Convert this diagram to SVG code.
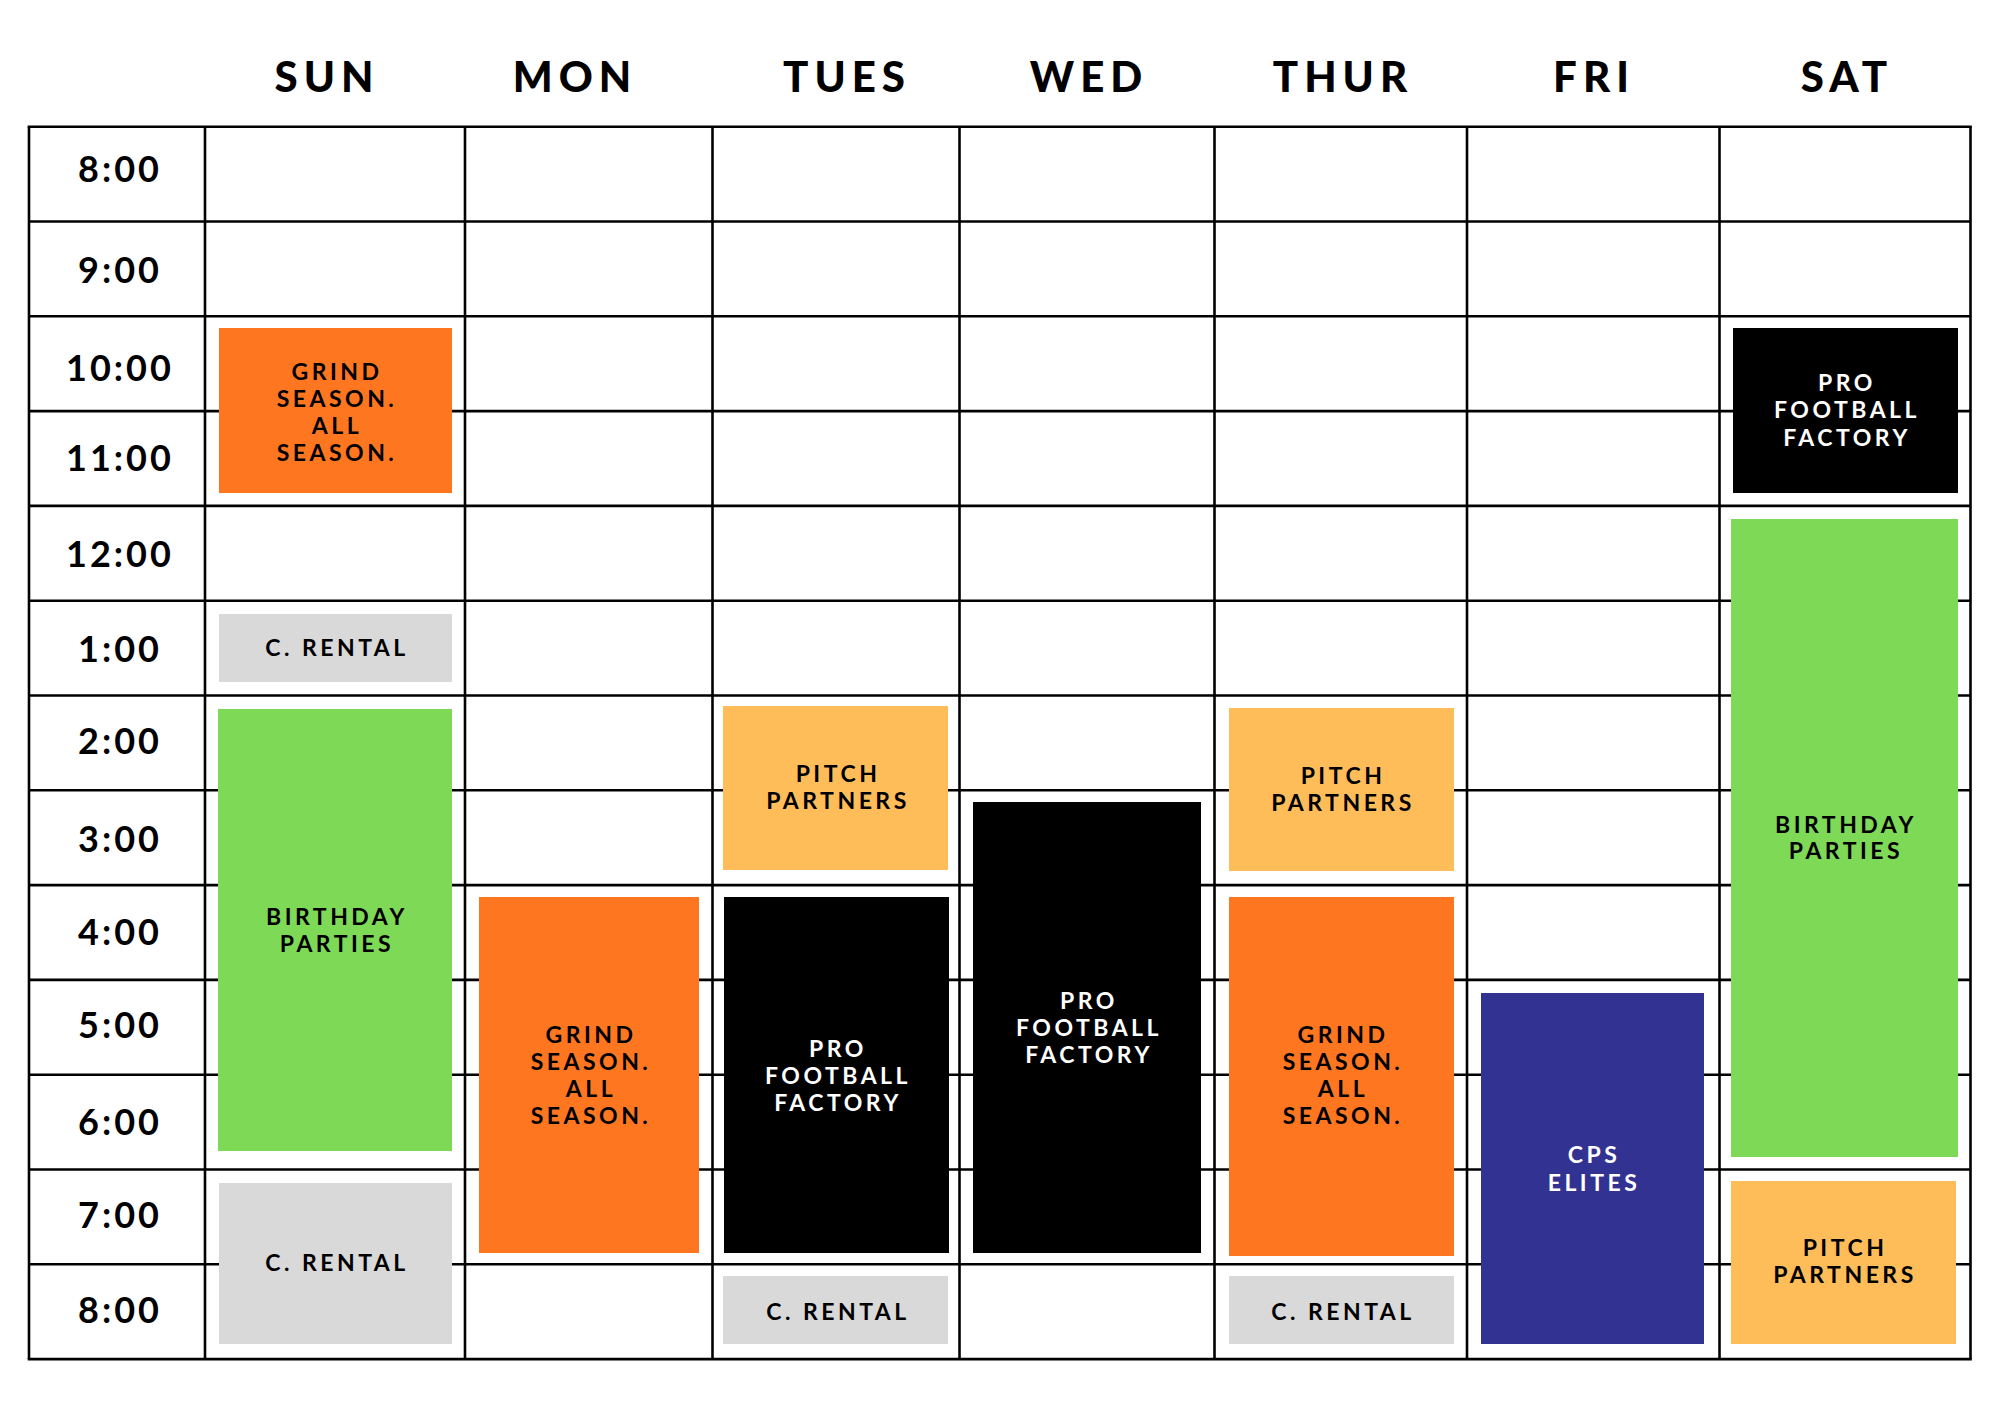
<svg xmlns="http://www.w3.org/2000/svg" width="2000" height="1412" viewBox="0 0 2000 1412">
<style>
.grid line{stroke:#000;stroke-width:2.6}
.hd{font-family:Lato,"Liberation Sans",sans-serif;font-weight:900;font-size:42px;letter-spacing:6px;text-anchor:middle;fill:#000}
.tm{font-family:Lato,"Liberation Sans",sans-serif;font-weight:700;font-size:36px;letter-spacing:3px;text-anchor:middle;fill:#000}
.lb{font-family:Lato,"Liberation Sans",sans-serif;font-weight:700;font-size:23px;letter-spacing:3.5px;text-anchor:middle}
.dk{fill:#000}
.wt{fill:#fff}
.orange{fill:#FE7620}
.yellow{fill:#FFBD59}
.green{fill:#7ED957}
.gray{fill:#D9D9D9}
.black{fill:#000}
.blue{fill:#323292}
</style>
<rect width="2000" height="1412" fill="#fff"/>
<g id="headers">
<text class="hd" x="327" y="92">SUN</text>
<text class="hd" x="575" y="92">MON</text>
<text class="hd" x="847" y="92">TUES</text>
<text class="hd" x="1089" y="92">WED</text>
<text class="hd" x="1343" y="92">THUR</text>
<text class="hd" x="1594" y="92">FRI</text>
<text class="hd" x="1847" y="92">SAT</text>
</g>
<g id="grid" class="grid">
<line x1="27.7" y1="126.7" x2="1971.8" y2="126.7"/>
<line x1="29" y1="221.5" x2="1970.5" y2="221.5"/>
<line x1="29" y1="316.3" x2="1970.5" y2="316.3"/>
<line x1="29" y1="411.1" x2="1970.5" y2="411.1"/>
<line x1="29" y1="505.9" x2="1970.5" y2="505.9"/>
<line x1="29" y1="600.7" x2="1970.5" y2="600.7"/>
<line x1="29" y1="695.5" x2="1970.5" y2="695.5"/>
<line x1="29" y1="790.3" x2="1970.5" y2="790.3"/>
<line x1="29" y1="885.1" x2="1970.5" y2="885.1"/>
<line x1="29" y1="979.9" x2="1970.5" y2="979.9"/>
<line x1="29" y1="1074.7" x2="1970.5" y2="1074.7"/>
<line x1="29" y1="1169.5" x2="1970.5" y2="1169.5"/>
<line x1="29" y1="1264.3" x2="1970.5" y2="1264.3"/>
<line x1="27.7" y1="1359.1" x2="1971.8" y2="1359.1"/>
<line x1="29" y1="126.7" x2="29" y2="1359.1"/>
<line x1="205" y1="126.7" x2="205" y2="1359.1"/>
<line x1="465" y1="126.7" x2="465" y2="1359.1"/>
<line x1="712.5" y1="126.7" x2="712.5" y2="1359.1"/>
<line x1="959.5" y1="126.7" x2="959.5" y2="1359.1"/>
<line x1="1214.5" y1="126.7" x2="1214.5" y2="1359.1"/>
<line x1="1467" y1="126.7" x2="1467" y2="1359.1"/>
<line x1="1719.5" y1="126.7" x2="1719.5" y2="1359.1"/>
<line x1="1970.5" y1="126.7" x2="1970.5" y2="1359.1"/>
</g>
<g id="times">
<text class="tm" x="120" y="182">8:00</text>
<text class="tm" x="120" y="283">9:00</text>
<text class="tm" x="120" y="381">10:00</text>
<text class="tm" x="120" y="471">11:00</text>
<text class="tm" x="120" y="567">12:00</text>
<text class="tm" x="120" y="662">1:00</text>
<text class="tm" x="120" y="754">2:00</text>
<text class="tm" x="120" y="852">3:00</text>
<text class="tm" x="120" y="945">4:00</text>
<text class="tm" x="120" y="1038">5:00</text>
<text class="tm" x="120" y="1135">6:00</text>
<text class="tm" x="120" y="1228">7:00</text>
<text class="tm" x="120" y="1323">8:00</text>
</g>
<g id="sun-grind">
<rect class="orange" x="219" y="328" width="233" height="165"/>
<text class="lb dk" x="337" y="380">GRIND</text>
<text class="lb dk" x="337" y="407">SEASON.</text>
<text class="lb dk" x="337" y="434">ALL</text>
<text class="lb dk" x="337" y="461">SEASON.</text>
</g>
<g id="sun-rental-1">
<rect class="gray" x="219" y="614" width="233" height="68"/>
<text class="lb dk" x="337" y="656">C. RENTAL</text>
</g>
<g id="sun-birthday">
<rect class="green" x="218" y="709" width="234" height="442"/>
<text class="lb dk" x="337" y="925">BIRTHDAY</text>
<text class="lb dk" x="337" y="952">PARTIES</text>
</g>
<g id="sun-rental-2">
<rect class="gray" x="219" y="1183" width="233" height="161"/>
<text class="lb dk" x="337" y="1271">C. RENTAL</text>
</g>
<g id="mon-grind">
<rect class="orange" x="479" y="897" width="220" height="356"/>
<text class="lb dk" x="591" y="1043">GRIND</text>
<text class="lb dk" x="591" y="1070">SEASON.</text>
<text class="lb dk" x="591" y="1097">ALL</text>
<text class="lb dk" x="591" y="1124">SEASON.</text>
</g>
<g id="tue-pitch">
<rect class="yellow" x="723" y="706" width="225" height="164"/>
<text class="lb dk" x="838" y="782">PITCH</text>
<text class="lb dk" x="838" y="809">PARTNERS</text>
</g>
<g id="tue-pro">
<rect class="black" x="724" y="897" width="225" height="356"/>
<text class="lb wt" x="838" y="1057">PRO</text>
<text class="lb wt" x="838" y="1084">FOOTBALL</text>
<text class="lb wt" x="838" y="1111">FACTORY</text>
</g>
<g id="tue-rental">
<rect class="gray" x="723" y="1276" width="225" height="68"/>
<text class="lb dk" x="838" y="1320">C. RENTAL</text>
</g>
<g id="wed-pro">
<rect class="black" x="973" y="802" width="228" height="451"/>
<text class="lb wt" x="1089" y="1009">PRO</text>
<text class="lb wt" x="1089" y="1036">FOOTBALL</text>
<text class="lb wt" x="1089" y="1063">FACTORY</text>
</g>
<g id="thu-pitch">
<rect class="yellow" x="1229" y="708" width="225" height="163"/>
<text class="lb dk" x="1343" y="784">PITCH</text>
<text class="lb dk" x="1343" y="811">PARTNERS</text>
</g>
<g id="thu-grind">
<rect class="orange" x="1229" y="897" width="225" height="359"/>
<text class="lb dk" x="1343" y="1043">GRIND</text>
<text class="lb dk" x="1343" y="1070">SEASON.</text>
<text class="lb dk" x="1343" y="1097">ALL</text>
<text class="lb dk" x="1343" y="1124">SEASON.</text>
</g>
<g id="thu-rental">
<rect class="gray" x="1229" y="1276" width="225" height="68"/>
<text class="lb dk" x="1343" y="1320">C. RENTAL</text>
</g>
<g id="fri-cps">
<rect class="blue" x="1481" y="993" width="223" height="351"/>
<text class="lb wt" x="1594" y="1163">CPS</text>
<text class="lb wt" x="1594" y="1191">ELITES</text>
</g>
<g id="sat-pro">
<rect class="black" x="1733" y="328" width="225" height="165"/>
<text class="lb wt" x="1847" y="391">PRO</text>
<text class="lb wt" x="1847" y="418">FOOTBALL</text>
<text class="lb wt" x="1847" y="446">FACTORY</text>
</g>
<g id="sat-birthday">
<rect class="green" x="1731" y="519" width="227" height="638"/>
<text class="lb dk" x="1846" y="833">BIRTHDAY</text>
<text class="lb dk" x="1846" y="859">PARTIES</text>
</g>
<g id="sat-pitch">
<rect class="yellow" x="1731" y="1181" width="225" height="163"/>
<text class="lb dk" x="1845" y="1256">PITCH</text>
<text class="lb dk" x="1845" y="1283">PARTNERS</text>
</g>
<g id="connectors"/>
</svg>
